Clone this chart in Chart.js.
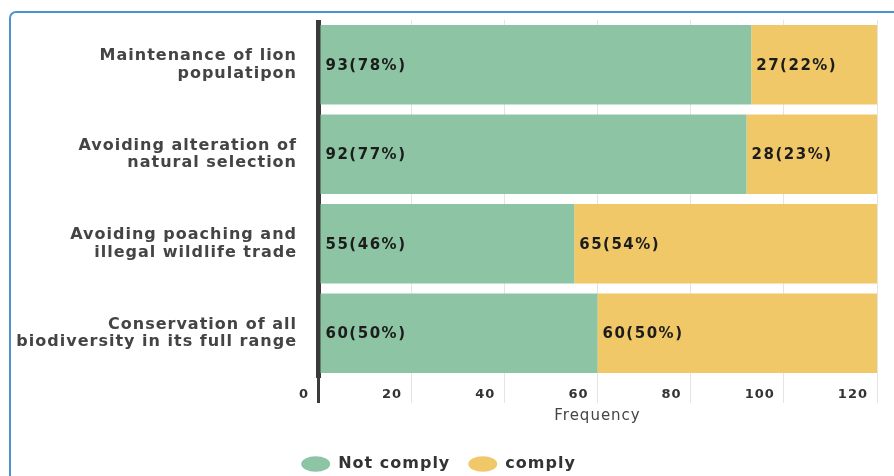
<!DOCTYPE html>
<html>
<head>
<meta charset="utf-8">
<script src="https://cdn.jsdelivr.net/npm/chart.js@4/dist/chart.umd.min.js"></script>
<style>
  html, body { margin: 0; padding: 0; background: #fff; overflow: hidden; }
  #wrap { position: relative; width: 894px; height: 476px; }
  #frame {
    position: absolute; left: 9px; top: 11px; width: 900px; height: 480px;
    border: 2px solid #4a93cf; border-radius: 7px;
  }
  #grafico { position: absolute; left: 0; top: 0; }
</style>
</head>
<body>
<div id="wrap">
  <div id="frame"></div>
  <canvas id="grafico" width="894" height="476"></canvas>
</div>
<script>
const categorias = [
  ['Maintenance of lion', 'populatipon'],
  ['Avoiding alteration of', 'natural selection'],
  ['Avoiding poaching and', 'illegal wildlife trade'],
  ['Conservation of all', 'biodiversity in its full range']
];
const noCumple = [93, 92, 55, 60];
const noCumplePct = [78, 77, 46, 50];
const cumple = [27, 28, 65, 60];
const cumplePct = [22, 23, 54, 50];
const ticksX = [0, 20, 40, 60, 80, 100, 120];

const FUENTE = '"DejaVu Sans", sans-serif';

// un poco de espaciado de letras, el texto original es mas ancho
const espaciado = {
  id: 'espaciado',
  beforeUpdate(chart) { chart.ctx.letterSpacing = '1px'; },
  beforeDraw(chart) { chart.ctx.letterSpacing = '1px'; }
};

// etiquetas "93(78%)" al inicio de cada segmento
const etiquetas = {
  id: 'etiquetas',
  afterDatasetsDraw(chart) {
    const ctx = chart.ctx;
    const pcts = [noCumplePct, cumplePct];
    ctx.save();
    ctx.letterSpacing = '1.5px';
    ctx.font = 'bold 15px ' + FUENTE;
    ctx.fillStyle = '#1c1c1c';
    ctx.textAlign = 'left';
    ctx.textBaseline = 'middle';
    chart.data.datasets.forEach((ds, d) => {
      chart.getDatasetMeta(d).data.forEach((bar, i) => {
        const inicio = Math.min(bar.base, bar.x);
        ctx.fillText(ds.data[i] + '(' + pcts[d][i] + '%)', inicio + 5, bar.y + 1);
      });
    });
    ctx.restore();
  }
};

const ctx = document.getElementById('grafico').getContext('2d');
new Chart(ctx, {
  type: 'bar',
  data: {
    labels: categorias,
    datasets: [{
      label: 'Not comply',
      data: noCumple,
      backgroundColor: '#8dc5a4',
      borderWidth: 0,
      categoryPercentage: 1,
      barPercentage: 0.89
    }, {
      label: 'comply',
      data: cumple,
      backgroundColor: '#f0c868',
      borderWidth: 0,
      categoryPercentage: 1,
      barPercentage: 0.89
    }]
  },
  options: {
    indexAxis: 'y',
    responsive: false,
    animation: false,
    layout: { padding: { top: 20, right: 17, left: 0, bottom: -6 } },
    scales: {
      x: {
        stacked: true,
        min: 0,
        max: 120,
        afterBuildTicks: scale => { scale.ticks = ticksX.map(v => ({ value: v })); },
        afterFit: scale => { scale.height = 60; },
        border: { display: false },
        grid: {
          color: c => c.tick && c.tick.value === 0 ? '#3a3a3a' : '#e4e4e4',
          lineWidth: c => c.tick && c.tick.value === 0 ? 5 : 1,
          tickColor: c => c.tick && c.tick.value === 0 ? '#3a3a3a' : '#e4e4e4',
          tickWidth: c => c.tick && c.tick.value === 0 ? 3 : 1,
          tickLength: 25
        },
        ticks: {
          align: 'end',
          labelOffset: -9,
          padding: -16,
          color: '#333',
          font: { family: FUENTE, size: 13, weight: 'bold' }
        },
        title: {
          display: true,
          text: 'Frequency',
          color: '#444',
          padding: { top: 0, bottom: 13 },
          font: { family: FUENTE, size: 15 }
        }
      },
      y: {
        stacked: true,
        afterFit: scale => {
          scale.width = 318;
          scale.paddingTop = 0;
          scale.paddingBottom = 0;
        },
        border: { display: false },
        grid: { display: false, drawTicks: false },
        ticks: {
          autoSkip: false,
          padding: 21,
          color: '#444',
          font: { family: FUENTE, size: 16, weight: 'bold', lineHeight: 1.08 }
        }
      }
    },
    plugins: {
      tooltip: { enabled: false },
      legend: {
        position: 'bottom',
        labels: {
          usePointStyle: true,
          pointStyle: 'circle',
          pointStyleWidth: 29,
          boxHeight: 11,
          padding: 18,
          color: '#333',
          font: { family: FUENTE, size: 16, weight: 'bold' }
        }
      }
    }
  },
  plugins: [espaciado, etiquetas]
});
</script>
</body>
</html>
